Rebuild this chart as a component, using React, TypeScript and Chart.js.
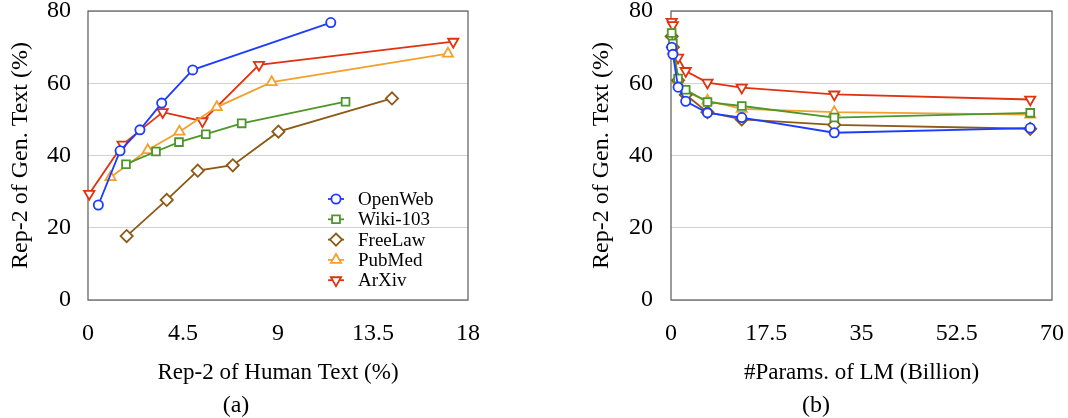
import React, { useEffect, useRef } from 'react';
import { Chart, registerables } from 'chart.js';

Chart.register(...registerables);

const FONT = '"Liberation Serif", "Times New Roman", serif';

const seriesNames = ['OpenWeb', 'Wiki-103', 'FreeLaw', 'PubMed', 'ArXiv'];
const seriesColors = ['#1e3cff', '#4e962a', '#8c5a16', '#f3a02c', '#e0320f'];
const seriesMarkers = ['circle', 'rect', 'rectRot', 'triangle', 'triangle'];
const seriesRotations = [0, 0, 0, 0, 180];
const seriesRadii = [4.6, 5.5, 6.1, 5.9, 5.9];

// (a) Rep-2 of human text (x) vs Rep-2 of generated text (y)
const humanOpenWeb = [0.49, 1.52, 2.46, 3.49, 4.96, 11.5];
const genOpenWeb = [26.3, 41.3, 47.1, 54.5, 63.7, 76.8];
const humanWiki = [1.8, 3.22, 4.31, 5.58, 7.28, 12.2];
const genWiki = [37.6, 41.1, 43.7, 45.9, 48.9, 54.9];
const humanFreeLaw = [1.83, 3.73, 5.2, 6.86, 9.02, 14.4];
const genFreeLaw = [17.7, 27.7, 35.8, 37.3, 46.6, 55.8];
const humanPubMed = [1.07, 2.83, 4.33, 6.1, 8.7, 17.05];
const genPubMed = [34.0, 41.5, 46.6, 53.4, 60.3, 68.2];
const humanArXiv = [0.06, 1.64, 3.54, 5.42, 8.1, 17.3];
const genArXiv = [29.4, 43.0, 52.0, 49.5, 65.1, 71.5];
const xTicksA = [0, 4.5, 9, 13.5, 18];

// (b) model size (billion params) vs Rep-2 of generated text
const paramsB = [0.125, 0.35, 1.3, 2.7, 6.7, 13, 30, 66];
const bOpenWeb = [70.0, 68.0, 58.9, 55.0, 51.8, 50.5, 46.3, 47.6];
const bWiki = [73.9, 71.0, 61.3, 58.2, 54.8, 53.7, 50.5, 51.8];
const bFreeLaw = [73.0, 70.0, 60.8, 56.8, 52.0, 50.0, 48.5, 47.4];
const bPubMed = [73.5, 69.0, 61.0, 57.6, 55.2, 52.9, 52.0, 51.3];
const bArXiv = [77.0, 76.1, 67.1, 63.4, 60.2, 58.8, 56.9, 55.5];
const xTicksB = [0, 17.5, 35, 52.5, 70];

const yTicks = [0, 20, 40, 60, 80];

function drawMarker(ctx: CanvasRenderingContext2D, style: string, rot: number, r: number, x: number, y: number) {
  ctx.beginPath();
  if (style === 'circle') {
    ctx.arc(x, y, r, 0, Math.PI * 2);
  } else if (style === 'rect') {
    const s = r * Math.SQRT1_2;
    ctx.rect(x - s, y - s, 2 * s, 2 * s);
  } else if (style === 'rectRot') {
    ctx.moveTo(x - r, y);
    ctx.lineTo(x, y - r);
    ctx.lineTo(x + r, y);
    ctx.lineTo(x, y + r);
    ctx.closePath();
  } else {
    let a = (rot * Math.PI) / 180;
    ctx.moveTo(x + Math.sin(a) * r, y - Math.cos(a) * r);
    a += (2 * Math.PI) / 3;
    ctx.lineTo(x + Math.sin(a) * r, y - Math.cos(a) * r);
    a += (2 * Math.PI) / 3;
    ctx.lineTo(x + Math.sin(a) * r, y - Math.cos(a) * r);
    ctx.closePath();
  }
  ctx.fill();
  ctx.stroke();
}

const framePlugin = {
  id: 'frame',
  beforeDatasetsDraw(chart: any) {
    const { ctx, chartArea } = chart;
    ctx.save();
    ctx.strokeStyle = '#5a5a5a';
    ctx.lineWidth = 1.2;
    ctx.strokeRect(chartArea.left, chartArea.top, chartArea.right - chartArea.left, chartArea.bottom - chartArea.top);
    ctx.restore();
  },
};

const legendPlugin = {
  id: 'inlineLegend',
  afterDraw(chart: any) {
    const { ctx, chartArea } = chart;
    const mx = chartArea.right - 132;
    const y0 = chartArea.bottom - 101;
    const step = 20.3;
    ctx.save();
    seriesNames.forEach((name, i) => {
      const y = y0 + i * step;
      ctx.strokeStyle = seriesColors[i];
      ctx.fillStyle = '#ffffff';
      ctx.lineWidth = 1.8;
      ctx.beginPath();
      ctx.moveTo(mx - 8, y);
      ctx.lineTo(mx + 8, y);
      ctx.stroke();
      drawMarker(ctx, seriesMarkers[i], seriesRotations[i], seriesRadii[i], mx, y);
      ctx.fillStyle = '#000';
      ctx.font = `19px ${FONT}`;
      ctx.textBaseline = 'middle';
      ctx.textAlign = 'left';
      ctx.fillText(name, mx + 22, y + 1);
    });
    ctx.restore();
  },
};

function makeDatasets(xs: number[][], ys: number[][]) {
  return seriesNames.map((name, i) => ({
    label: name,
    data: xs[i].map((x, j) => ({ x, y: ys[i][j] })),
    showLine: true,
    borderColor: seriesColors[i],
    backgroundColor: '#ffffff',
    borderWidth: 1.8,
    pointStyle: seriesMarkers[i],
    pointRotation: seriesRotations[i],
    pointRadius: seriesRadii[i],
    pointHoverRadius: seriesRadii[i],
    pointBorderWidth: 1.8,
    pointBackgroundColor: '#ffffff',
    pointBorderColor: seriesColors[i],
    clip: false,
    tension: 0,
  }));
}

function makeChart(
  canvas: HTMLCanvasElement,
  datasets: any[],
  xTicks: number[],
  xTitle: string,
  pads: { left: number; right: number; tick: number },
  withLegend: boolean
) {
  return new Chart(canvas, {
    type: 'scatter',
    data: { datasets },
    options: {
      animation: false,
      responsive: false,
      maintainAspectRatio: false,
      events: [],
      layout: { padding: { left: pads.left, right: pads.right, top: 0, bottom: 40.8 } },
      plugins: { legend: { display: false }, tooltip: { enabled: false }, title: { display: false } },
      scales: {
        x: {
          type: 'linear',
          min: xTicks[0],
          max: xTicks[xTicks.length - 1],
          afterBuildTicks: (scale: any) => {
            scale.ticks = xTicks.map((v) => ({ value: v }));
          },
          grid: { display: false, drawTicks: false },
          border: { display: false },
          ticks: {
            padding: 22,
            color: '#000',
            maxRotation: 0,
            autoSkip: false,
            font: { family: FONT, size: 24, lineHeight: 1 },
            callback: (v: any) => String(v),
          },
          title: {
            display: true,
            text: xTitle,
            color: '#000',
            font: { family: FONT, size: 23, lineHeight: 0.4 },
            padding: { top: 0, bottom: 0 },
          },
        },
        y: {
          type: 'linear',
          min: 0,
          max: 80,
          afterBuildTicks: (scale: any) => {
            scale.ticks = yTicks.map((v) => ({ value: v }));
          },
          grid: { color: '#d2d2d2', lineWidth: 1, drawTicks: false },
          border: { display: false },
          ticks: {
            padding: pads.tick,
            color: '#000',
            font: { family: FONT, size: 24, lineHeight: 1 },
            callback: (v: any) => String(v),
          },
          title: {
            display: true,
            text: 'Rep-2 of Gen. Text (%)',
            color: '#000',
            font: { family: FONT, size: 24, lineHeight: 0.75 },
            padding: { top: 0, bottom: 0 },
          },
        },
      },
    } as any,
    plugins: withLegend ? [framePlugin, legendPlugin] : [framePlugin],
  });
}

export default function App() {
  const refA = useRef<HTMLCanvasElement>(null);
  const refB = useRef<HTMLCanvasElement>(null);

  useEffect(() => {
    const dsA = makeDatasets(
      [humanOpenWeb, humanWiki, humanFreeLaw, humanPubMed, humanArXiv],
      [genOpenWeb, genWiki, genFreeLaw, genPubMed, genArXiv]
    );
    const dsB = makeDatasets(
      [paramsB, paramsB, paramsB, paramsB, paramsB],
      [bOpenWeb, bWiki, bFreeLaw, bPubMed, bArXiv]
    );
    const a = makeChart(refA.current!, dsA, xTicksA, 'Rep-2 of Human Text (%)', { left: 12, right: 66, tick: 17 }, true);
    const b = makeChart(refB.current!, dsB, xTicksB, '#Params. of LM (Billion)', { left: 59, right: 0, tick: 18 }, false);
    return () => {
      a.destroy();
      b.destroy();
    };
  }, []);

  const capStyle: React.CSSProperties = {
    position: 'absolute',
    top: 391,
    width: 60,
    textAlign: 'center',
    fontFamily: FONT,
    fontSize: 24,
    lineHeight: '26px',
    color: '#000',
  };

  return (
    <div style={{ position: 'absolute', left: 0, top: 0, width: 1068, height: 418, background: '#fff', overflow: 'hidden' }}>
      <canvas ref={refA} width={534} height={436} style={{ position: 'absolute', left: 0, top: -18, width: 534, height: 436 }} />
      <canvas ref={refB} width={552} height={437} style={{ position: 'absolute', left: 534, top: -19, width: 552, height: 437 }} />
      <div style={{ ...capStyle, left: 236 - 30 }}>(a)</div>
      <div style={{ ...capStyle, left: 816 - 30 }}>(b)</div>
    </div>
  );
}
